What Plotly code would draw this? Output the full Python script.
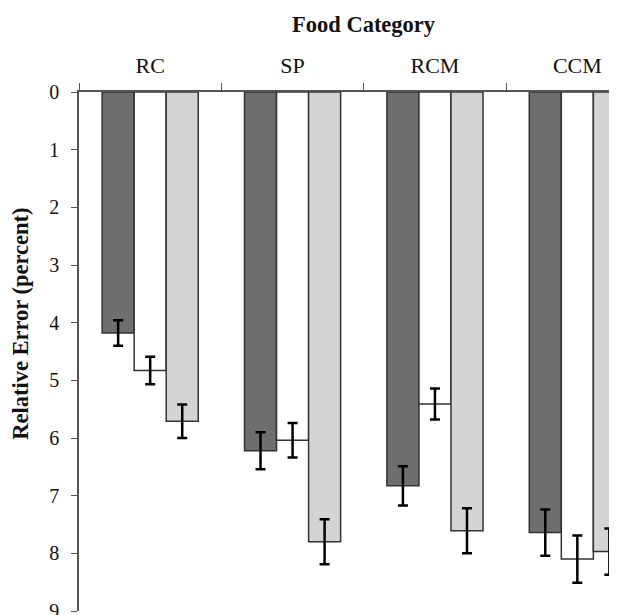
import plotly.graph_objects as go

categories = ["RC", "SP", "RCM", "CCM"]
series_names = ["Series 1", "Series 2", "Series 3"]
dark_vals = [4.18, 6.22, 6.83, 7.64]
dark_err = [0.22, 0.32, 0.34, 0.40]
white_vals = [4.83, 6.04, 5.41, 8.10]
white_err = [0.24, 0.30, 0.27, 0.41]
light_vals = [5.71, 7.80, 7.61, 7.97]
light_err = [0.29, 0.39, 0.39, 0.40]
y_ticks = list(range(0, 10))

FONT = "Liberation Serif, Times New Roman, serif"
OFF = 8  # default body margin of the html page
W, H = 617 - OFF, 615 - OFF
ML, MR, MT, MB = 79.3 - OFF, 0, 91.7 - OFF, 4
pw = W - ML - MR
ph = H - MT - MB

fig = go.Figure()
for name, vals, errs, fill in [
    (series_names[0], dark_vals, dark_err, "#6e6e6e"),
    (series_names[1], white_vals, white_err, "#ffffff"),
    (series_names[2], light_vals, light_err, "#d4d4d4"),
]:
    fig.add_trace(go.Bar(
        x=categories, y=vals, name=name,
        marker=dict(color=fill, line=dict(color="#333333", width=1.5)),
        error_y=dict(type="data", array=errs, visible=True,
                     color="#000000", thickness=2.5, width=5),
    ))

x_right = -0.5 + pw / 142.3

fig.update_layout(
    width=W, height=H,
    margin=dict(l=ML, r=MR, t=MT, b=MB, autoexpand=False),
    paper_bgcolor="white", plot_bgcolor="white",
    showlegend=False,
    barmode="group", bargap=0.325, bargroupgap=0,
    font=dict(family=FONT, color="#111111", size=20),
    xaxis=dict(
        type="category", categoryorder="array", categoryarray=categories,
        side="top", range=[-0.5, x_right],
        tickson="boundaries", ticks="outside", ticklen=7, tickwidth=1.2,
        tickcolor="#555555",
        showline=True, linecolor="#555555", linewidth=1.5,
        showgrid=False, zeroline=False,
        tickfont=dict(family=FONT, size=22, color="#111111"),
        ticklabelstandoff=8,
    ),
    yaxis=dict(
        range=[9, 0], tickvals=y_ticks, ticktext=[str(v) for v in y_ticks],
        ticks="outside", ticklen=6, tickwidth=1.2, tickcolor="#555555",
        showline=True, linecolor="#555555", linewidth=1.5,
        showgrid=False, zeroline=False,
        tickfont=dict(family=FONT, size=20, color="#111111"),
        ticklabelstandoff=8, ticklabeloverflow="allow",
    ),
    annotations=[
        dict(text="<b>Food Category</b>", xref="paper", yref="paper",
             x=(364 - OFF - ML) / pw, y=(H - MB - (24 - OFF)) / ph,
             xanchor="center", yanchor="middle", showarrow=False,
             font=dict(family=FONT, size=22.5, color="#111111")),
        dict(text="<b>Relative Error (percent)</b>", xref="paper", yref="paper",
             x=(20 - OFF - ML) / pw, y=(H - MB - (324 - OFF)) / ph, textangle=-90,
             xanchor="center", yanchor="middle", showarrow=False,
             font=dict(family=FONT, size=22.5, color="#111111")),
    ],
)

fig.write_html("out.html")
